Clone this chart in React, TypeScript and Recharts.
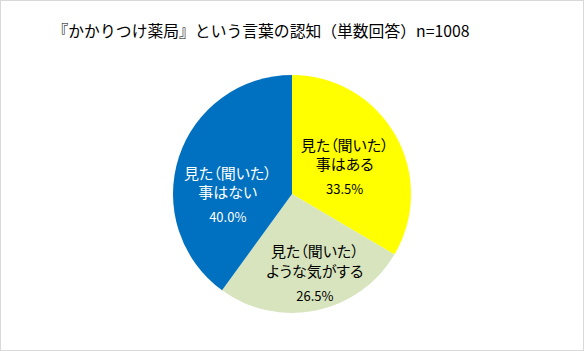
import React from "react";
import { PieChart, Pie, Cell } from "recharts";

const TITLE = "『かかりつけ薬局』という言葉の認知（単数回答）n=1008";
const labels = [
  ["見た（聞いた）", "事はある"],
  ["見た（聞いた）", "ような気がする"],
  ["見た（聞いた）", "事はない"],
];
const values = [33.5, 26.5, 40.0];
const colors = ["#FFFF00", "#D7E4BD", "#0070C0"];
const textColors = ["#000000", "#000000", "#FFFFFF"];

// label placement relative to the slice: radius factor and angle nudge
const labelRadius = [0.51, 0.67, 0.54];
const labelAngleNudge = [0, 5, 16];

const data = values.map((v, i) => ({ name: labels[i].join(""), value: v }));

const FONT = "'Noto Sans CJK JP', 'Noto Sans', sans-serif";
const RAD = Math.PI / 180;

function SliceLabel(props: any) {
  const { cx, cy, midAngle, outerRadius, index } = props;
  const a = (midAngle + labelAngleNudge[index]) * RAD;
  const r = outerRadius * labelRadius[index];
  const x = cx + r * Math.cos(a);
  const y = cy - r * Math.sin(a);
  const fill = textColors[index];
  const [l1, l2] = labels[index];
  return (
    <g style={{ fontFamily: FONT, fontFeatureSettings: '"palt"' }}>
      <text x={x} y={y - 19.5} fill={fill} fontSize={15} textAnchor="middle" dominantBaseline="central">
        {l1}
      </text>
      <text x={x} y={y} fill={fill} fontSize={15} textAnchor="middle" dominantBaseline="central">
        {l2}
      </text>
      <text x={x} y={y + 25} fill={fill} fontSize={13} textAnchor="middle" dominantBaseline="central">
        {values[index].toFixed(1)}%
      </text>
    </g>
  );
}

export default function App() {
  return (
    <div
      style={{
        position: "absolute",
        left: 0,
        top: 0,
        width: 584,
        height: 351,
        boxSizing: "border-box",
        border: "1px solid #d9d9d9",
        background: "#fff",
      }}
    >
      <div
        style={{
          position: "absolute",
          left: 0,
          top: 19,
          width: 520,
          textAlign: "center",
          fontFamily: FONT,
          fontSize: 15.8,
          lineHeight: "22px",
          color: "#000",
        }}
      >
        {TITLE}
      </div>
      <PieChart
        width={584}
        height={351}
        margin={{ top: 0, right: 0, bottom: 0, left: 0 }}
        style={{ position: "absolute", left: -1, top: -1 }}
      >
        <Pie
          data={data}
          dataKey="value"
          cx={292}
          cy={194}
          outerRadius={119}
          startAngle={90}
          endAngle={-270}
          stroke="none"
          label={SliceLabel}
          labelLine={false}
          isAnimationActive={false}
        >
          {data.map((_, i) => (
            <Cell key={i} fill={colors[i]} />
          ))}
        </Pie>
      </PieChart>
    </div>
  );
}
